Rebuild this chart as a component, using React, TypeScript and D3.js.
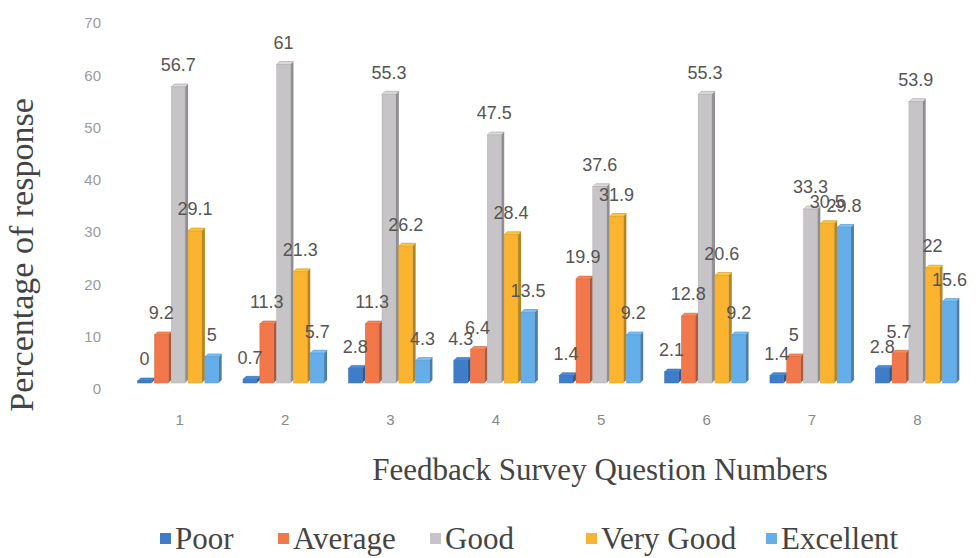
import React from "react";
import * as d3 from "d3";

const categories = ["1", "2", "3", "4", "5", "6", "7", "8"];
const seriesNames = ["Poor", "Average", "Good", "Very Good", "Excellent"];
const poor = [0, 0.7, 2.8, 4.3, 1.4, 2.1, 1.4, 2.8];
const average = [9.2, 11.3, 11.3, 6.4, 19.9, 12.8, 5, 5.7];
const good = [56.7, 61, 55.3, 47.5, 37.6, 55.3, 33.3, 53.9];
const veryGood = [29.1, 21.3, 26.2, 28.4, 31.9, 20.6, 30.5, 22];
const excellent = [5, 5.7, 4.3, 13.5, 9.2, 9.2, 29.8, 15.6];
const yTicks = [0, 10, 20, 30, 40, 50, 60, 70];

const seriesValues = [poor, average, good, veryGood, excellent];
const colors = ["#3f7dcb", "#f2784b", "#c6c4c6", "#fab42f", "#66aee9"];

export default function App() {
  const W = 980;
  const H = 558;
  const x = d3.scaleBand<string>().domain(categories).range([127, 970]).padding(0);
  const inner = d3.scaleBand<string>().domain(seriesNames).range([0, 84]).padding(0);
  const yTick = d3.scaleLinear().domain([0, 70]).range([389, 23]);
  const yBar = d3.scaleLinear().domain([0, 70]).range([383, 383 - 70 * 5.22]);
  const depth = 3;
  const base = yBar(0);

  const bars: React.ReactNode[] = [];
  const labels: React.ReactNode[] = [];
  categories.forEach((c, ci) => {
    const gx = (x(c) as number) + x.bandwidth() / 2 - 42;
    seriesNames.forEach((s, si) => {
      const v = seriesValues[si][ci];
      const bx = gx + (inner(s) as number);
      const w = inner.bandwidth() - depth;
      let top = yBar(v);
      if (base - top < 2) top = base - 2;
      const col = colors[si];
      const dark = d3.color(col)!.darker(0.9).toString();
      const light = d3.color(col)!.brighter(0.3).toString();
      bars.push(
        <g key={`b${ci}-${si}`}>
          <polygon
            points={`${bx + w},${top} ${bx + w + depth},${top - depth} ${bx + w + depth},${base - depth} ${bx + w},${base}`}
            fill={dark}
          />
          <polygon
            points={`${bx},${top} ${bx + depth},${top - depth} ${bx + w + depth},${top - depth} ${bx + w},${top}`}
            fill={light}
            stroke={dark}
            strokeWidth={0.5}
          />
          <rect x={bx} y={top} width={w} height={base - top} fill={col} stroke={d3.color(col)!.darker(0.3).toString()} strokeWidth={0.5} />
        </g>
      );
      labels.push(
        <text
          key={`l${ci}-${si}`}
          x={bx + w / 2}
          y={top - 22}
          dy="0.35em"
          textAnchor="middle"
          fontFamily="Liberation Sans, Arial, sans-serif"
          fontSize={18}
          fill="#555"
        >
          {String(v)}
        </text>
      );
    });
  });

  const legendX = [160, 278, 430, 586, 766];

  return (
    <svg width={W} height={H} style={{ position: "absolute", left: 0, top: 0, background: "#fff" }}>
      {yTicks.map((t) => (
        <text
          key={`yt${t}`}
          x={101}
          y={yTick(t)}
          dy="0.35em"
          textAnchor="end"
          fontFamily="Liberation Sans, Arial, sans-serif"
          fontSize={15}
          fill="#9a9a9a"
        >
          {t}
        </text>
      ))}
      {bars}
      {labels}
      {categories.map((c) => (
        <text
          key={`xt${c}`}
          x={(x(c) as number) + x.bandwidth() / 2}
          y={420}
          dy="0.35em"
          textAnchor="middle"
          fontFamily="Liberation Sans, Arial, sans-serif"
          fontSize={15}
          fill="#888"
        >
          {c}
        </text>
      ))}
      <text
        x={600}
        y={480}
        textAnchor="middle"
        fontFamily="Liberation Serif, Times New Roman, serif"
        fontSize={31}
        fill="#444"
      >
        Feedback Survey Question Numbers
      </text>
      <text
        transform="translate(33,255) rotate(-90)"
        textAnchor="middle"
        fontFamily="Liberation Serif, Times New Roman, serif"
        fontSize={34}
        fill="#444"
      >
        Percentage of response
      </text>
      {seriesNames.map((s, i) => (
        <g key={`lg${s}`}>
          <rect x={legendX[i]} y={533} width={11} height={11} fill={colors[i]} />
          <text
            x={legendX[i] + 15}
            y={549}
            fontFamily="Liberation Serif, Times New Roman, serif"
            fontSize={31}
            fill="#444"
          >
            {s}
          </text>
        </g>
      ))}
    </svg>
  );
}
